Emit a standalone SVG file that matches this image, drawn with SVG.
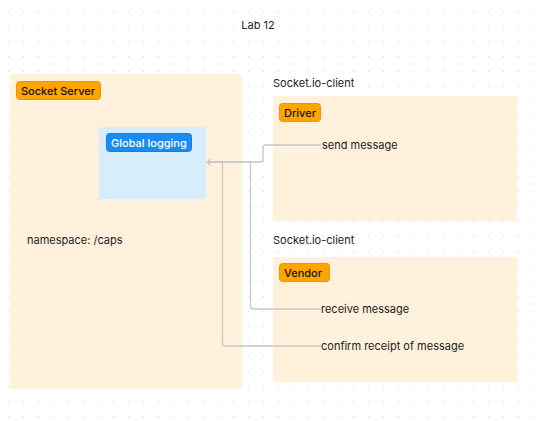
<svg xmlns="http://www.w3.org/2000/svg" width="536" height="421" viewBox="0 0 536 421">
<defs>
<pattern id="dots" x="8" y="11" width="15" height="15" patternUnits="userSpaceOnUse">
<rect x="0" y="0" width="1" height="1" fill="#d4d4d4"/>
</pattern>
<marker id="arr" viewBox="0 0 10 10" refX="6" refY="5" markerWidth="7" markerHeight="7" orient="auto" markerUnits="userSpaceOnUse">
<path d="M1,1 L6,5 L1,9" fill="none" stroke="#bdbdbd" stroke-width="1.5"/>
</marker>
<style>
.frame{fill:#fff1dc;}
.tag{fill:#ffa500;stroke:#e8960a;stroke-width:1;}
.tagblue{fill:#1a8cf0;stroke:#1380e0;stroke-width:1;}
.t{font-family:Inter,"Liberation Sans",sans-serif;font-size:11px;fill:#222;}
.tl{font-family:Inter,"Liberation Sans",sans-serif;font-size:11px;font-weight:500;fill:#111;}
.tw{font-family:Inter,"Liberation Sans",sans-serif;font-size:11px;font-weight:500;fill:#fff;}
.conn{fill:none;stroke:#c8c8c8;stroke-width:1.3;}
</style>
</defs>
<rect width="536" height="421" fill="#ffffff"/>
<rect width="536" height="421" fill="url(#dots)"/>
<text class="t" x="258" y="29" text-anchor="middle">Lab 12</text>

<g id="socket-server">
<rect class="frame" x="10" y="74" width="232" height="315" rx="2"/>
<rect class="tag" x="16.5" y="81.5" width="84" height="18" rx="3"/>
<text class="tl" x="21" y="94.5">Socket Server</text>
<text class="t" x="27" y="244">namespace: /caps</text>
</g>

<g id="global-logging">
<rect x="99" y="127" width="107" height="72" fill="#d6edfc"/>
<rect class="tagblue" x="106.5" y="133.5" width="85" height="18" rx="3"/>
<text class="tw" x="111" y="146.5">Global logging</text>
</g>

<g id="driver">
<text class="t" x="273" y="87">Socket.io-client</text>
<rect class="frame" x="273" y="96" width="244" height="125" rx="2"/>
<rect class="tag" x="279.5" y="103.5" width="41" height="18" rx="3"/>
<text class="tl" x="284" y="116.5">Driver</text>
<text class="t" x="322" y="149">send message</text>
</g>

<g id="vendor">
<text class="t" x="273" y="244">Socket.io-client</text>
<rect class="frame" x="273" y="257" width="244" height="125" rx="2"/>
<rect class="tag" x="279.5" y="263.5" width="50" height="18" rx="3"/>
<text class="tl" x="284" y="276.5">Vendor</text>
<text class="t" x="321" y="313">receive message</text>
<text class="t" x="321" y="350">confirm receipt of message</text>
</g>

<g id="connectors">
<path class="conn" d="M321,145 H266 Q263,145 263,148 V159 Q263,162 260,162 H207" marker-end="url(#arr)"/>
<path class="conn" d="M321,309 H253 Q250.5,309 250.5,306 V162 H207"/>
<path class="conn" d="M321,346 H225.5 Q222.5,346 222.5,343 V162 H207"/>
</g>
</svg>
